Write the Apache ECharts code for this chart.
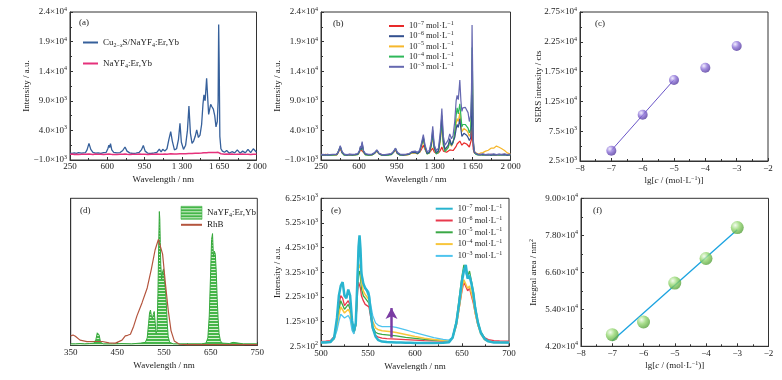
<!DOCTYPE html>
<html><head><meta charset="utf-8">
<script src="https://cdn.jsdelivr.net/npm/echarts@6/dist/echarts.min.js"></script>
<style>html,body{margin:0;padding:0;background:#fff}#c{width:782px;height:380px}</style>
</head><body><div id="c"></div>
<script>
// ---------- DATA ----------
const waveAB = [250,270,290,310,330,344,358,375,395,410,
 428,445,465,490,515,540,565,590,605,615,
 622,630,642,660,690,720,745,766,785,810,
 840,870,900,920,938,955,980,1010,1040,1065,
 1088,1105,1120,1140,1160,1178,1195,1210,1230,1250,
 1268,1282,1295,1315,1335,1352,1366,1380,1395,1410,
 1425,1439,1455,1470,1485,1498,1507,1518,1532,1542,
 1551,1560,1570,1582,1595,1608,1620,1632,1640,1645,
 1650,1656,1666,1680,1700,1720,1745,1770,1795,1820,
 1845,1870,1895,1920,1945,1970,2000];
const aCuS = [150,100,200,120,250,450,150,180,250,700,
 1800,800,300,150,200,120,250,300,900,1500,
 1100,1750,700,300,200,250,600,1200,500,200,
 100,150,300,700,1450,500,150,100,200,300,
 850,350,800,500,900,2500,3800,2200,700,900,
 2500,5200,2000,800,1500,4000,8100,3500,1800,2200,
 3000,4100,2800,3200,5000,8500,10000,9000,12800,9500,
 6700,7500,8400,8000,7600,6500,4600,5500,9000,21900,
 15000,3000,900,500,300,600,150,400,200,700,
 150,500,200,800,250,900,300];
const aNaYF = [-50,0,-80,-20,-60,0,-40,-70,-10,-50,
 20,-30,-60,0,-50,-20,-70,-10,-40,0,
 -30,10,-50,-20,-60,-10,-40,0,-30,-60,
 -20,-50,0,-40,10,-30,-60,-10,-40,0,
 -30,20,-20,10,-10,30,50,20,0,30,
 40,60,20,40,60,50,80,60,90,100,
 120,140,130,160,180,200,220,210,240,230,
 250,240,260,250,270,260,250,280,300,450,
 350,200,50,0,-30,10,-40,0,-50,-10,
 -40,0,-50,-20,-60,-10,-40];
const b7 = [-100,-200,-50,-150,-100,100,-100,-150,-50,200,
 900,200,-100,-150,-50,-150,-100,-50,300,800,
 500,1000,300,-50,-150,-100,150,500,100,-100,
 -150,-100,0,300,700,100,-100,-150,-50,0,
 200,0,200,100,300,800,1500,800,100,200,
 500,1000,400,100,200,600,1200,500,200,300,
 400,700,500,600,900,1300,1700,1600,2200,1900,
 1500,1700,1900,1800,1700,1500,1200,1400,2500,4400,
 3000,800,200,0,-100,-50,-150,-100,-150,-50,
 -150,-100,-150,-100,-50,-150,-100];
const b6 = [-150,-100,-200,-100,-150,150,-100,-200,-100,300,
 1300,300,-100,-200,-100,-150,-100,0,500,1200,
 800,1900,500,0,-150,-100,200,650,100,-150,
 -200,-100,0,400,950,200,-100,-200,-100,0,
 300,0,300,100,400,1600,2900,1300,100,300,
 1700,4000,1200,200,600,3000,6500,2200,800,1000,
 1500,2600,1500,1800,2800,4200,5000,4500,6000,4200,
 3000,3200,3500,3300,3200,2800,2300,2700,5000,10000,
 7000,1500,300,0,-100,-150,-50,-150,-100,-200,
 -100,-150,-50,-150,-100,-200,-100];
const b5 = [-50,-150,-100,-50,-200,100,-150,-100,-200,250,
 1100,250,-150,-100,-200,-100,-150,-50,400,1000,
 700,1500,400,-100,-200,-150,150,550,50,-200,
 -100,-150,-50,350,850,150,-150,-100,-200,-50,
 200,-100,250,0,300,1300,2400,1000,0,200,
 1200,3000,900,100,400,2200,4800,1600,600,800,
 1200,2000,1300,1600,3000,5200,6000,5500,7000,5200,
 3800,4000,4300,4100,4000,3600,3000,3500,8000,16000,
 11000,2000,400,100,0,150,250,500,650,1000,
 1000,1350,1150,900,600,200,0];
const b4 = [-200,-150,-100,-200,-150,50,-200,-150,-100,200,
 1200,200,-200,-150,-100,-200,-150,-100,400,1100,
 700,1600,400,-150,-200,-150,100,600,50,-200,
 -150,-200,-100,300,900,100,-200,-150,-100,-50,
 250,-50,300,50,350,1500,2700,1100,0,200,
 1400,3400,1000,0,300,2600,5500,1500,400,600,
 1100,2200,1500,1900,3800,6500,7800,6800,8500,6500,
 4600,5000,5200,5000,4900,4400,3600,4200,9000,18000,
 12500,2200,300,-50,-150,-100,-200,-150,-100,-200,
 -150,-100,-200,-150,-100,-200,-150];
const b3 = [-100,-50,-150,-50,-100,200,-50,-100,0,400,
 1400,400,0,-100,0,-50,0,100,600,1400,
 1000,2100,600,100,-50,0,250,700,150,-50,
 -100,0,100,450,1000,300,0,-50,0,100,
 400,200,500,300,600,1900,3300,1600,400,600,
 2100,4700,1600,600,1000,3800,7700,3000,1500,1800,
 2400,3400,2600,3200,5500,9000,9900,9200,12500,9000,
 7200,7800,8100,7900,7700,7000,5500,6500,11000,21800,
 15000,2500,500,100,0,-50,50,-100,0,-50,
 50,-100,0,-50,50,-100,0];

const concX = [-7,-6,-5,-4,-3];
const cSERS = [4230,10270,16090,18160,21800];
const fArea = [45780,49890,62510,70470,80500];

const waveD = [350,360,370,380,390,400,404,407,409,411,414,420,440,460,480,500,510,514,517,519,
 521,523,525,527,529,531,533,535,537,539,540,541,542,543,545,547,549,551,553,555,
 557,559,562,570,600,630,640,644,647,650,652,654,656,658,660,662,664,666,668,671,
 675,690,698,700,702,720,750];
const dNaYF = [.01,.01,.012,.01,.012,.015,.04,.085,.09,.07,.02,.01,.01,.012,.01,.015,.02,.05,.15,.22,
 .24,.2,.18,.21,.23,.16,.08,.1,.35,.75,.91,.86,.7,.55,.45,.5,.52,.44,.38,.28,
 .15,.06,.02,.01,.01,.01,.015,.05,.2,.5,.72,.76,.6,.64,.62,.5,.32,.18,.08,.03,
 .015,.012,.02,.03,.015,.01,.01];
const waveRhB = [350,355,360,370,385,400,418,432,446,460,467,472,478,485,492,503,514,523,531,538,
 542,547,553,559,565,572,583,600,650,700,750];
const dRhB = [.064,.07,.062,.035,.025,.026,.026,.017,.015,.035,.064,.068,.075,.13,.2,.29,.39,.52,.65,.72,
 .72,.62,.42,.24,.1,.03,.007,.005,.004,.004,.004];

const waveE = [500,505,510,514,517,519,521,523,525,527,
 529,531,533,535,537,539,540,541,542,543,
 545,547,549,551,553,555,558,561,565,570,
 575,580,585,590,595,600,610,620,630,636,
 640,644,647,650,652,654,656,658,660,662,
 664,667,670,674,678,684,690,700];
const e7 = [400,400,420,600,1400,2300,2700,2850,2300,2200,
 2550,2300,1300,850,1200,3200,4300,4750,4200,3200,
 2800,2600,2500,2300,1600,1000,650,500,440,420,
 410,400,400,390,390,380,380,380,390,410,
 600,1200,2000,2900,3300,3550,3000,3100,2800,2400,
 1800,1200,800,550,450,400,400,400];
const e6 = [450,460,480,650,1300,1900,2300,2200,1900,1850,
 2100,1900,1100,800,1100,2500,2850,2800,2600,2300,
 2100,1950,1900,1850,1400,950,700,620,580,560,
 550,540,530,520,510,500,480,470,460,470,
 600,1100,1800,2500,2850,2900,2500,2600,2300,2000,
 1600,1100,800,600,520,480,470,460];
const e5 = [400,410,430,600,1200,1700,2100,2050,1750,1700,
 1950,1750,1050,780,1100,2700,3200,3300,3000,2600,
 2300,2200,2100,2000,1500,1050,820,760,730,710,
 690,670,640,610,590,570,530,500,480,480,
 620,1300,2200,3100,3550,3600,3100,3300,2900,2500,
 1900,1250,850,580,470,420,410,400];
const e4 = [400,410,430,550,1000,1500,1850,1800,1600,1550,
 1750,1600,1000,800,1200,3000,3600,3650,3400,2900,
 2500,2350,2250,2150,1650,1250,1000,920,880,860,
 840,810,770,730,690,650,580,530,490,480,
 580,1100,1800,2600,2950,3000,2600,2700,2400,2100,
 1600,1100,750,520,440,410,400,400];
const e3 = [420,430,450,550,900,1250,1550,1600,1400,1350,
 1500,1350,900,750,1200,3500,4300,4450,4000,3300,
 2800,2650,2550,2450,1900,1500,1200,1100,1050,1050,
 1050,1020,970,920,860,800,700,600,530,500,
 620,1200,2100,3000,3400,3450,3000,3150,2800,2400,
 1800,1200,800,550,450,420,410,400];
const arrowE = [575, 600, 1800]; // wavelength, from, to

// tick labels
const xTicksAB = [250,600,950,1300,1650,2000];
const xLabelsAB = ['250','600','950','1 300','1 650','2 000'];
const yTicksAB = [-1000,4000,9000,14000,19000,24000];
const yLabelsAB = ['−1.0×10{sup|3}','4.0×10{sup|3}','9.0×10{sup|3}','1.4×10{sup|4}','1.9×10{sup|4}','2.4×10{sup|4}'];
const xTicksCF = [-8,-7,-6,-5,-4,-3,-2];
const xLabelsCF = ['−8','−7','−6','−5','−4','−3','−2'];
const yTicksC = [2500,7500,12500,17500,22500,27500];
const yLabelsC = ['2.5×10{sup|3}','7.5×10{sup|3}','1.25×10{sup|4}','1.75×10{sup|4}','2.25×10{sup|4}','2.75×10{sup|4}'];
const xTicksD = [350,450,550,650,750];
const xLabelsD = ['350','450','550','650','750'];
const xTicksE = [500,550,600,650,700];
const xLabelsE = ['500','550','600','650','700'];
const yTicksE = [250,1250,2250,3250,4250,5250,6250];
const yLabelsE = ['2.5×10{sup|2}','1.25×10{sup|3}','2.25×10{sup|3}','3.25×10{sup|3}','4.25×10{sup|3}','5.25×10{sup|3}','6.25×10{sup|3}'];
const yTicksF = [42000,54000,66000,78000,90000];
const yLabelsF = ['4.20×10{sup|4}','5.40×10{sup|4}','6.60×10{sup|4}','7.80×10{sup|4}','9.00×10{sup|4}'];

const legendText = {
  aCu: 'Cu{sub|2−}{subi|x}S/NaYF{sub|4}:Er,Yb', aNa: 'NaYF{sub|4}:Er,Yb',
  b7: '10{sup|−7} mol·L{sup|−1}', b6: '10{sup|−6} mol·L{sup|−1}', b5: '10{sup|−5} mol·L{sup|−1}',
  b4: '10{sup|−4} mol·L{sup|−1}', b3: '10{sup|−3} mol·L{sup|−1}',
  e7: '10{sup|−7} mol·L{sup|−1}', e6: '10{sup|−6} mol·L{sup|−1}', e5: '10{sup|−5} mol·L{sup|−1}',
  e4: '10{sup|−4} mol·L{sup|−1}', e3: '10{sup|−3} mol·L{sup|−1}',
  dNa: 'NaYF{sub|4}:Er,Yb', dRhB: 'RhB'
};

// ---------- HELPERS ----------
const F = '"Liberation Serif","Times New Roman",serif';
const FS = 9;
const zip = (xs, ys) => xs.map((x, i) => [x, ys[i]]);
function richSet(size) {
  const s = Math.round(size * 0.7);
  return {
    sup: {fontSize: s, fontFamily: F, color: '#222', padding: [0, 0, Math.round(size * 0.55), 0]},
    sub: {fontSize: s, fontFamily: F, color: '#222', padding: [Math.round(size * 0.5), 0, 0, 0]},
    subi: {fontSize: s, fontFamily: F, fontStyle: 'italic', color: '#222', padding: [Math.round(size * 0.5), 0, 0, 0]},
    i: {fontSize: size, fontFamily: F, fontStyle: 'italic', color: '#222'}
  };
}
const fmt = (ticks, labels) => v => {
  const i = ticks.findIndex(t => Math.abs(t - v) < 1e-6 * Math.max(1, Math.abs(t)));
  return i < 0 ? '' : labels[i];
};
function linFit(xs, ys) {
  const n = xs.length, mx = xs.reduce((a, b) => a + b) / n, my = ys.reduce((a, b) => a + b) / n;
  let sxy = 0, sxx = 0;
  xs.forEach((x, i) => { sxy += (x - mx) * (ys[i] - my); sxx += (x - mx) * (x - mx); });
  const k = sxy / sxx, b = my - k * mx;
  return [[xs[0], k * xs[0] + b], [xs[n - 1], k * xs[n - 1] + b]];
}
function axis(o) {
  return {
    gridIndex: o.grid, type: 'value', min: o.ticks[0], max: o.ticks[o.ticks.length - 1],
    interval: o.ticks[1] - o.ticks[0],
    axisLine: {show: true, onZero: false, lineStyle: {color: '#333', width: 1}},
    axisTick: {show: o.noTicks ? false : true, inside: true, length: 3, lineStyle: {color: '#333', width: 1}},
    minorTick: {show: o.noTicks ? false : true, splitNumber: 2, length: 2, lineStyle: {color: '#333', width: 1}},
    splitLine: {show: false},
    axisLabel: {show: !o.noLabels, color: '#222', fontFamily: F, fontSize: FS, margin: o.margin != null ? o.margin : 3,
      formatter: o.labels ? fmt(o.ticks, o.labels) : null, rich: richSet(FS), showMinLabel: true, showMaxLabel: true},
    name: o.name || '', nameLocation: 'middle', nameGap: o.gap || 0, nameMoveOverlap: false,
    nameTextStyle: {color: '#222', fontFamily: F, fontSize: FS, rich: richSet(FS)}
  };
}
// stripe pattern for panel (d)
const pc = document.createElement('canvas'); pc.width = 4; pc.height = 3;
const pg = pc.getContext('2d');
pg.fillStyle = '#d9f2d4'; pg.fillRect(0, 0, 4, 3);
pg.fillStyle = '#45b649'; pg.fillRect(0, 0, 4, 2);
const stripe = {image: pc, repeat: 'repeat'};

const colA = {aCu: '#36609b', aNa: '#e5317b'};
const colB = {b7: '#e82a2a', b6: '#33508f', b5: '#f6b72c', b4: '#2fb85a', b3: '#6568b0'};
const colE = {e7: '#28b4cf', e6: '#e8394d', e5: '#3aa846', e4: '#f8c63c', e3: '#4fc4ee'};

function lineSeries(name, g, xs, ys, color, w, z) {
  return {name, type: 'line', xAxisIndex: g, yAxisIndex: g, data: zip(xs, ys), symbol: 'none',
    lineStyle: {color, width: w}, itemStyle: {color}, z: z || 2, silent: true};
}
function legend(o) {
  return Object.assign({
    orient: 'vertical', selectedMode: false, padding: 0, itemGap: 0,
    itemStyle: {opacity: 0},
    formatter: n => legendText[n],
    textStyle: {fontFamily: F, fontSize: 9, color: '#222', rich: richSet(9)}
  }, o);
}
const sphere = (light, mid, dark) => ({type: 'radial', x: 0.35, y: 0.32, r: 0.75,
  colorStops: [{offset: 0, color: light}, {offset: 0.45, color: mid}, {offset: 1, color: dark}]});

const titleStyle = {fontFamily: F, fontSize: 9, fontWeight: 'normal', color: '#222'};
const T = (text, left, top) => ({text, left, top, padding: 0, textStyle: titleStyle});

const option = {
  animation: false,
  backgroundColor: '#fff',
  title: [T('(a)', 79, 18.5), T('(b)', 333, 19.5), T('(c)', 595, 19.5), T('(d)', 80, 206), T('(e)', 331, 206), T('(f)', 593, 206.5)],
  grid: [
    {left: 70, top: 12, width: 186.5, height: 148},
    {left: 321, top: 12, width: 189.5, height: 148},
    {left: 580, top: 12, width: 188, height: 149},
    {left: 70.7, top: 198.3, width: 186.6, height: 147},
    {left: 321, top: 198.3, width: 188, height: 148},
    {left: 581, top: 198.3, width: 187.5, height: 148}
  ].map(g => Object.assign(g, {show: true, borderColor: '#333', borderWidth: 1, backgroundColor: 'transparent'})),
  xAxis: [
    axis({grid: 0, ticks: xTicksAB, labels: xLabelsAB, name: 'Wavelength / nm', gap: 15, margin: 2}),
    axis({grid: 1, ticks: xTicksAB, labels: xLabelsAB, name: 'Wavelength / nm', gap: 15, margin: 2}),
    axis({grid: 2, ticks: xTicksCF, labels: xLabelsCF, name: 'lg[{i|c} / (mol·L{sup|−1})]', gap: 14, margin: 3}),
    axis({grid: 3, ticks: xTicksD, labels: xLabelsD, name: 'Wavelength / nm', gap: 15.5, margin: 3}),
    axis({grid: 4, ticks: xTicksE, labels: xLabelsE, name: 'Wavelength / nm', gap: 15.5, margin: 3}),
    axis({grid: 5, ticks: xTicksCF, labels: xLabelsCF, name: 'lg[{i|c} / (mol·L{sup|−1})]', gap: 14, margin: 3})
  ],
  yAxis: [
    axis({grid: 0, ticks: yTicksAB, labels: yLabelsAB, name: 'Intensity / a.u.', gap: 39}),
    axis({grid: 1, ticks: yTicksAB, labels: yLabelsAB, name: 'Intensity / a.u.', gap: 39}),
    axis({grid: 2, ticks: yTicksC, labels: yLabelsC, name: 'SERS intensity / cts', gap: 37}),
    axis({grid: 3, ticks: [0, 1], noTicks: true, noLabels: true}),
    axis({grid: 4, ticks: yTicksE, labels: yLabelsE, name: 'Intensity / a.u.', gap: 38.5}),
    axis({grid: 5, ticks: yTicksF, labels: yLabelsF, name: 'Integral area / nm{sup|2}', gap: 41.5})
  ],
  legend: [
    legend({left: 82, top: 36.5, itemWidth: 15, itemHeight: 10, itemGap: 9, data: ['aCu', 'aNa'],
      textStyle: {fontFamily: F, fontSize: 9, color: '#222', lineHeight: 12, rich: richSet(9)}}),
    legend({left: 388, top: 20.5, itemWidth: 15, itemHeight: 9, itemGap: 0.2, data: ['b7', 'b6', 'b5', 'b4', 'b3'],
      textStyle: {fontFamily: F, fontSize: 8.5, color: '#222', lineHeight: 9, rich: richSet(8.5)}}),
    legend({left: 180, top: 206, itemWidth: 21, itemHeight: 13, itemGap: 0,
      data: [{name: 'dNa', icon: 'rect', itemStyle: {opacity: 1, color: stripe, borderColor: '#45b649', borderWidth: 0.6}}, {name: 'dRhB'}]}),
    legend({left: 434.7, top: 203.2, itemWidth: 17, itemHeight: 9, itemGap: 1.8, data: ['e7', 'e6', 'e5', 'e4', 'e3'],
      textStyle: {fontFamily: F, fontSize: 8.5, color: '#222', lineHeight: 9, rich: richSet(8.5)}})
  ],
  series: [
    lineSeries('aCu', 0, waveAB, aCuS, colA.aCu, 1.3),
    lineSeries('aNa', 0, waveAB, aNaYF, colA.aNa, 1.5, 3),
    lineSeries('b7', 1, waveAB, b7, colB.b7, 1.2),
    lineSeries('b5', 1, waveAB, b5, colB.b5, 1.2),
    lineSeries('b4', 1, waveAB, b4, colB.b4, 1.2),
    lineSeries('b6', 1, waveAB, b6, colB.b6, 1.2),
    lineSeries('b3', 1, waveAB, b3, colB.b3, 1.2),
    {name: 'fitC', type: 'line', xAxisIndex: 2, yAxisIndex: 2, data: linFit(concX.slice(0, 3), cSERS.slice(0, 3)),
      symbol: 'none', lineStyle: {color: '#6a55c8', width: 1}, silent: true},
    {name: 'ptsC', type: 'scatter', xAxisIndex: 2, yAxisIndex: 2, data: zip(concX, cSERS), symbolSize: 10,
      itemStyle: {color: sphere('#efeaff', '#8d72d8', '#4c3196')}, silent: true, z: 3},
    {name: 'dNa', type: 'line', xAxisIndex: 3, yAxisIndex: 3, data: zip(waveD, dNaYF), symbol: 'none',
      lineStyle: {color: '#36a83c', width: 1}, itemStyle: {color: '#45b649'}, areaStyle: {color: stripe, opacity: 1}, silent: true},
    lineSeries('dRhB', 3, waveRhB, dRhB, '#b4553e', 1.2, 3),
    lineSeries('e6', 4, waveE, e6, colE.e6, 1.3),
    lineSeries('e5', 4, waveE, e5, colE.e5, 1.3),
    lineSeries('e4', 4, waveE, e4, colE.e4, 1.5),
    Object.assign(lineSeries('e3', 4, waveE, e3, colE.e3, 1.3), {
      markLine: {silent: true, symbol: ['none', 'arrow'], symbolSize: [9, 11], label: {show: false},
        lineStyle: {color: '#7a3ca3', width: 2.5, type: 'solid'},
        data: [[{coord: [arrowE[0], arrowE[1]]}, {coord: [arrowE[0], arrowE[2]]}]]}
    }),
    lineSeries('e7', 4, waveE, e7, colE.e7, 2.5, 3),
    {name: 'fitF', type: 'line', xAxisIndex: 5, yAxisIndex: 5, data: linFit(concX, fArea),
      symbol: 'none', lineStyle: {color: '#1ba3e0', width: 1.3}, silent: true},
    {name: 'ptsF', type: 'scatter', xAxisIndex: 5, yAxisIndex: 5, data: zip(concX, fArea), symbolSize: 13,
      itemStyle: {color: sphere('#f0fbe8', '#93d66f', '#4f9b35')}, silent: true, z: 3}
  ]
};
const chart = echarts.init(document.getElementById('c'), null, {renderer: 'canvas'});
chart.setOption(option);
</script>
</body></html>
